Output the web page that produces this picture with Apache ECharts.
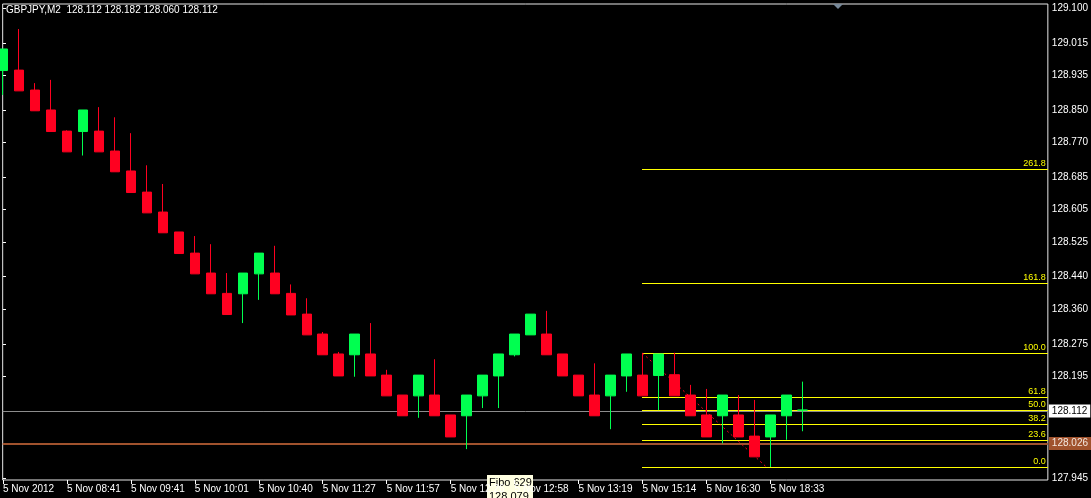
<!DOCTYPE html>
<html>
<head>
<meta charset="utf-8">
<script src="https://cdn.jsdelivr.net/npm/echarts@6/dist/echarts.min.js"></script>
<style>
html,body{margin:0;padding:0;background:#000;}
#chart{width:1091px;height:498px;}
</style>
</head>
<body>
<div id="chart"></div>
<script>
// ---- data ----
const symbolTitle = 'GBPJPY,M2  128.112 128.182 128.060 128.112';
const opens  = [128.947,128.948,128.899,128.850,128.798,128.797,128.798,128.749,128.700,128.648,128.599,128.550,128.498,128.449,128.399,128.398,128.447,128.449,128.399,128.348,128.299,128.250,128.248,128.250,128.198,128.149,128.147,128.149,128.100,128.098,128.147,128.196,128.248,128.297,128.299,128.250,128.198,128.149,128.147,128.196,128.198,128.197,128.199,128.149,128.100,128.098,128.100,128.048,128.046,128.098,128.112];
const highs  = [129.000,129.049,128.916,128.924,128.800,128.850,128.857,128.832,128.793,128.714,128.668,128.550,128.540,128.520,128.449,128.449,128.498,128.516,128.421,128.387,128.304,128.255,128.299,128.326,128.211,128.149,128.198,128.237,128.100,128.149,128.198,128.250,128.299,128.348,128.356,128.250,128.198,128.227,128.198,128.250,128.252,128.250,128.253,128.174,128.164,128.149,128.149,128.137,128.100,128.149,128.182];
const lows   = [128.887,128.897,128.848,128.797,128.747,128.738,128.747,128.698,128.647,128.597,128.548,128.497,128.447,128.398,128.347,128.326,128.383,128.398,128.346,128.297,128.248,128.196,128.194,128.196,128.147,128.098,128.093,128.098,128.046,128.016,128.117,128.117,128.244,128.297,128.248,128.196,128.147,128.098,128.065,128.157,128.147,128.112,128.147,128.098,128.046,128.030,128.046,127.997,127.972,128.039,128.060];
const closes = [129.000,128.897,128.848,128.797,128.747,128.850,128.747,128.698,128.647,128.597,128.548,128.497,128.447,128.398,128.347,128.449,128.498,128.398,128.346,128.297,128.248,128.196,128.299,128.196,128.147,128.098,128.198,128.098,128.046,128.149,128.198,128.250,128.299,128.348,128.248,128.196,128.147,128.098,128.198,128.250,128.147,128.250,128.147,128.098,128.046,128.149,128.046,127.997,128.100,128.149,128.112];

const xTickIdx    = [0,4,8,12,16,20,24,28,32,36,40,44,48];
const xTickLabels = ['5 Nov 2012','5 Nov 08:41','5 Nov 09:41','5 Nov 10:01','5 Nov 10:40','5 Nov 11:27','5 Nov 11:57','5 Nov 12:26','5 Nov 12:58','5 Nov 13:19','5 Nov 15:14','5 Nov 16:30','5 Nov 18:33'];
const yTickLabels = ['129.100','129.015','128.935','128.850','128.770','128.685','128.605','128.525','128.440','128.360','128.275','128.195','127.945'];

const bidPrice = 128.112;
const hLinePrice = 128.026;
const fiboStartIdx = 40, fiboEndIdx = 47.75;
const fibo100 = 128.252, fibo0 = 127.972;
const fiboLevels = [0, 23.6, 38.2, 50.0, 61.8, 100.0, 161.8, 261.8];
const fiboLabels = ['0.0','23.6','38.2','50.0','61.8','100.0','161.8','261.8'];
const tipTitle = 'Fibo 629', tipValue = '128.079';

// ---- build ----
const X_MIN = -0.02, X_MAX = 65.355;
const Y_MIN = 127.9401, Y_MAX = 129.1106;
const UP = '#00ff50', DOWN = '#ff0020', YEL = '#ffff00';
const FONT = 'Liberation Sans, Arial, sans-serif';

const candleData = opens.map((o, i) => {
  const item = { value: [i, o, closes[i], lows[i], highs[i]] };
  if (o === closes[i]) {
    item.itemStyle = { color: UP, color0: UP, borderColor: UP, borderColor0: UP };
  }
  return item;
});

const fiboData = fiboLevels.map((lv, k) => [fiboStartIdx, fibo0 + (fibo100 - fibo0) * lv / 100, k]);

function renderFibo(params, api) {
  const k = api.value(2);
  const pt = api.coord([api.value(0), api.value(1)]);
  const y = Math.round(pt[1]) + 0.5;
  const right = params.coordSys.x + params.coordSys.width;
  return {
    type: 'group',
    children: [
      { type: 'line', shape: { x1: Math.round(pt[0]), y1: y, x2: right, y2: y }, style: { stroke: YEL, lineWidth: 1 } },
      { type: 'text', style: { text: fiboLabels[k], x: right - 2, y: y - 1.5, align: 'right', verticalAlign: 'bottom',
        fill: YEL, fontSize: 9, fontFamily: FONT } }
    ]
  };
}

const chart = echarts.init(document.getElementById('chart'), null, { renderer: 'canvas' });
chart.setOption({
  animation: false,
  backgroundColor: '#000',
  textStyle: { fontFamily: FONT },
  grid: { left: 2, right: 43, top: 4, bottom: 18, show: true, borderColor: '#e8e8e8', borderWidth: 1, backgroundColor: 'transparent' },
  xAxis: {
    type: 'value', min: X_MIN, max: X_MAX,
    axisLine: { show: false },
    splitLine: { show: false },
    axisTick: { show: true, customValues: xTickIdx, length: 4, lineStyle: { color: '#fff' } },
    axisLabel: { show: true, customValues: xTickIdx, align: 'left', margin: 4, color: '#fff', fontSize: 10, fontFamily: FONT,
      formatter: v => xTickLabels[xTickIdx.indexOf(Math.round(v))] || '' }
  },
  yAxis: {
    type: 'value', position: 'right', min: Y_MIN, max: Y_MAX, scale: true,
    axisLine: { show: false },
    splitLine: { show: false },
    axisTick: { show: true, customValues: yTickLabels.map(Number), length: 3, lineStyle: { color: '#fff' } },
    axisLabel: { show: true, customValues: yTickLabels.map(Number), margin: 4, color: '#fff', fontSize: 10, fontFamily: FONT,
      formatter: v => v.toFixed(3) }
  },
  series: [
    {
      type: 'candlestick',
      encode: { x: 0, y: [1, 2, 3, 4] },
      data: candleData,
      barWidth: 10,
      itemStyle: { color: UP, color0: DOWN, borderColor: UP, borderColor0: DOWN, borderWidth: 1 },
      z: 3,
      markLine: {
        z: 1, silent: true, symbol: 'none', animation: false,
        emphasis: { disabled: true },
        data: [
          { yAxis: bidPrice, lineStyle: { color: '#8c8c8c', width: 1, type: 'solid' },
            label: { show: true, position: 'end', distance: 1, formatter: bidPrice.toFixed(3), color: '#000',
              backgroundColor: '#fff', padding: [2, 3, 1, 3], fontSize: 10, fontFamily: FONT } },
          { yAxis: hLinePrice, lineStyle: { color: '#a0522d', width: 2, type: 'solid' },
            label: { show: true, position: 'end', distance: 1, formatter: hLinePrice.toFixed(3), color: '#f4e8e0',
              backgroundColor: '#a0522d', padding: [2, 3, 1, 3], fontSize: 10, fontFamily: FONT } }
        ]
      }
    },
    {
      type: 'custom',
      renderItem: renderFibo,
      data: fiboData,
      encode: { x: 0, y: 1 },
      z: 2,
      silent: true,
      clip: false
    },
    {
      type: 'line',
      data: [[fiboStartIdx, fibo100], [fiboEndIdx, fibo0]],
      symbol: 'none',
      lineStyle: { color: DOWN, width: 1, type: [2, 3] },
      z: 2,
      silent: true
    }
  ],
  graphic: [
    { type: 'text', left: 6, top: 5, z: 10, style: { text: symbolTitle, fill: '#fff', fontSize: 10, fontFamily: FONT } },
    { type: 'polygon', z: 10, shape: { points: [[833, 4], [843, 4], [838, 9]] }, style: { fill: '#778899' } },
    { type: 'group', left: 487, top: 475, z: 20, children: [
      { type: 'rect', shape: { x: 0, y: 0, width: 46, height: 30 }, style: { fill: '#ffffe1' } },
      { type: 'text', x: 2, y: 1, style: { text: tipTitle + '\n' + tipValue, fill: '#000', fontSize: 11, lineHeight: 14, fontFamily: FONT } }
    ] }
  ]
});
</script>
</body>
</html>
